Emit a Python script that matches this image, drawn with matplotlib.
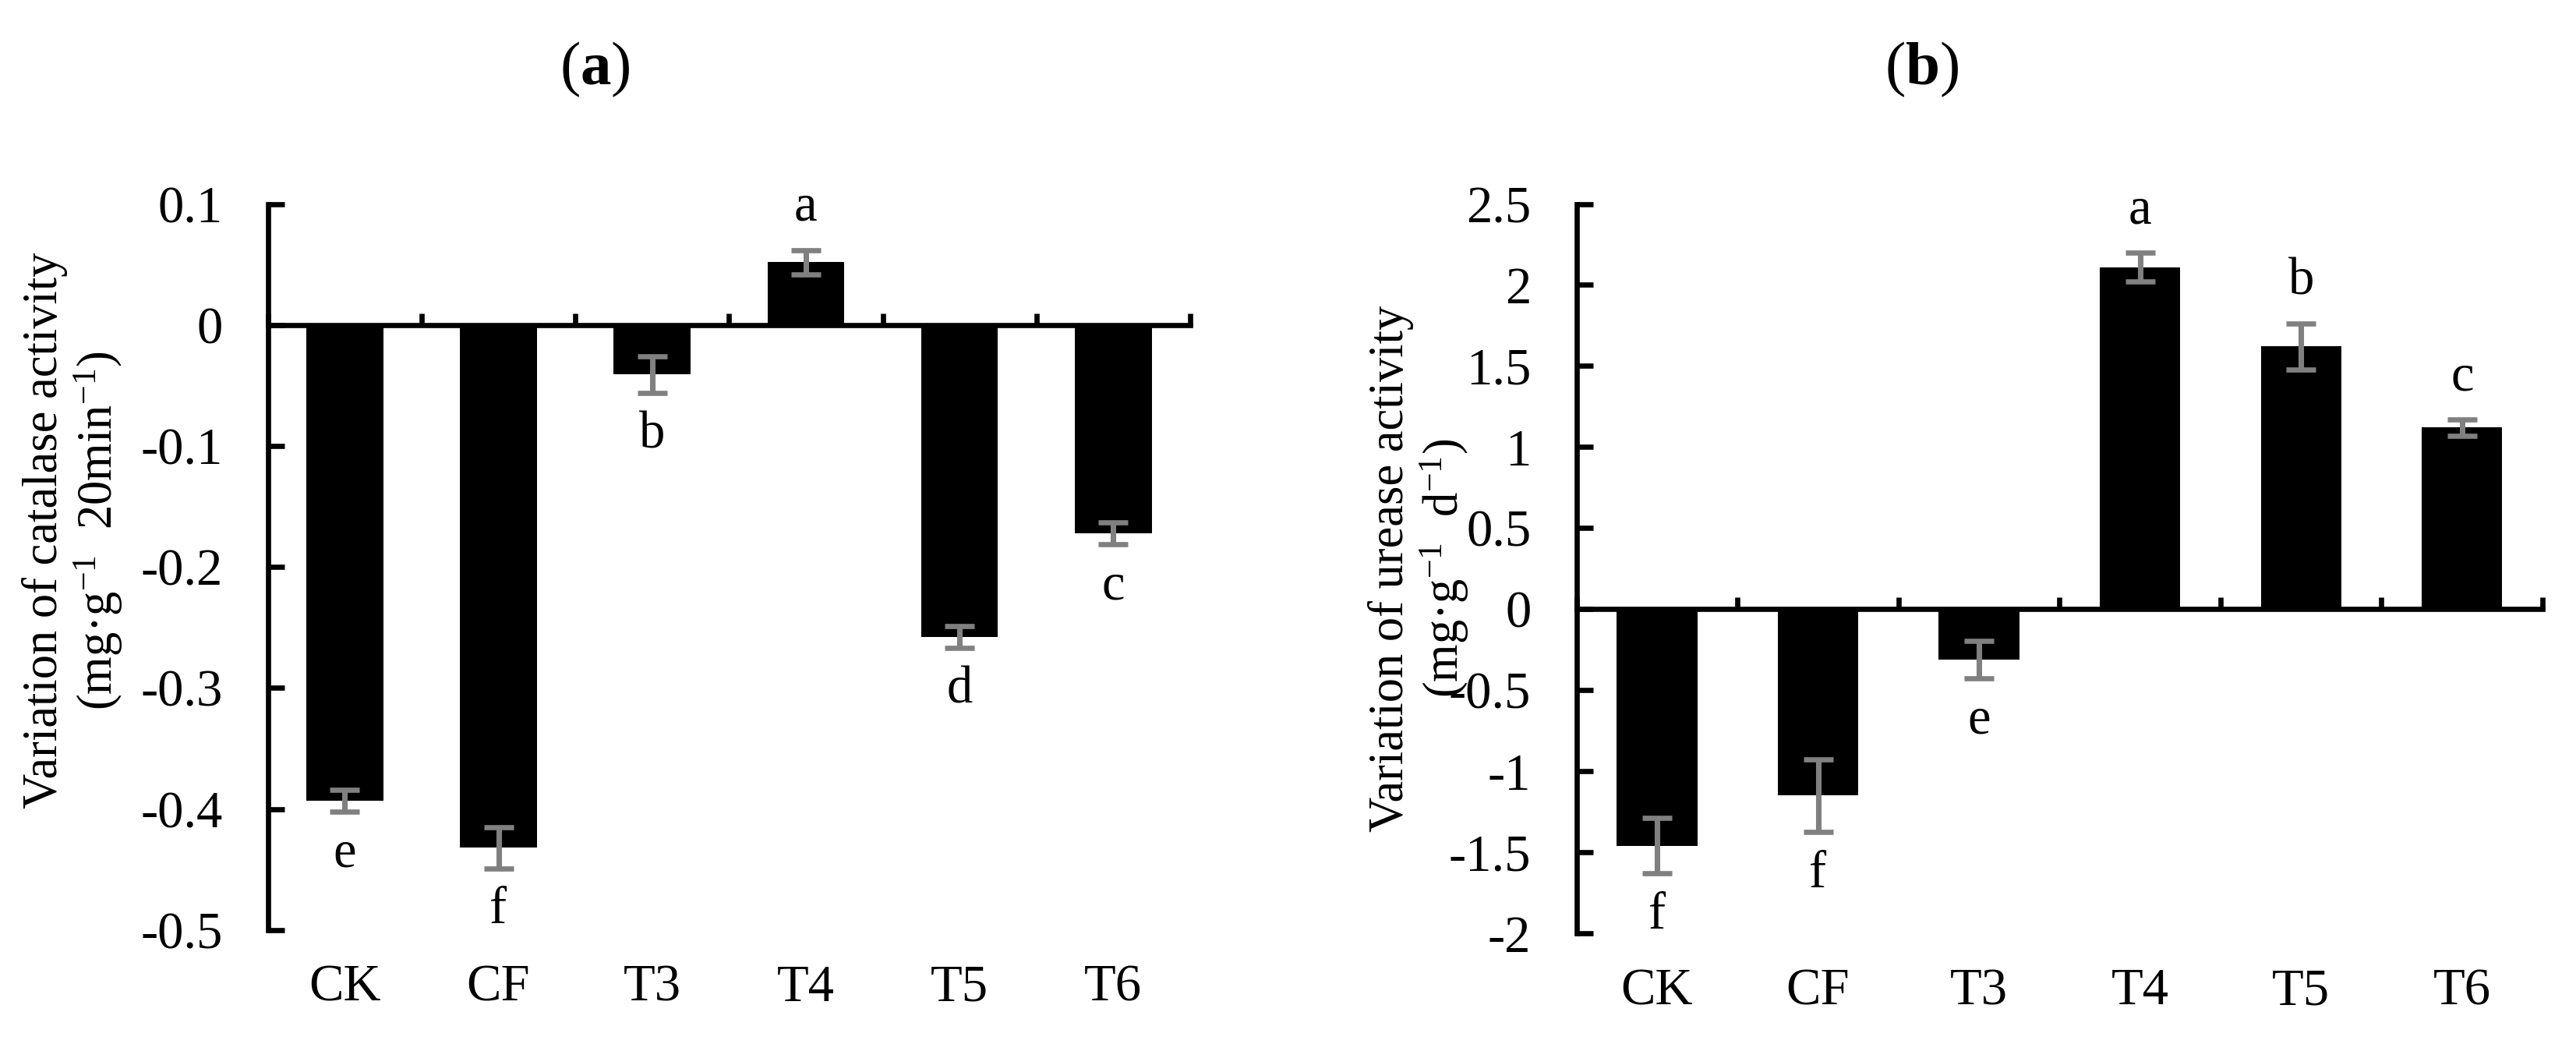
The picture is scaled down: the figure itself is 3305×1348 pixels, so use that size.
import matplotlib
matplotlib.use('Agg')
import matplotlib.pyplot as plt
import matplotlib.transforms as mtransforms
import numpy as np

plt.rcParams['font.family'] = ['Liberation Serif', 'DejaVu Serif']
plt.rcParams['mathtext.fontset'] = 'custom'
plt.rcParams['mathtext.rm'] = 'Liberation Serif'
plt.rcParams['mathtext.it'] = 'Liberation Serif:italic'
plt.rcParams['mathtext.bf'] = 'Liberation Serif:bold'

treatments = ['CK', 'CF', 'T3', 'T4', 'T5', 'T6']

# (a) catalase
catalase = [-0.393, -0.432, -0.041, 0.052, -0.258, -0.172]
catalase_err = [0.009, 0.017, 0.015, 0.010, 0.009, 0.009]
catalase_letters = ['e', 'f', 'b', 'a', 'd', 'c']

# (b) urease
urease = [-1.46, -1.15, -0.31, 2.11, 1.62, 1.12]
urease_err = [0.17, 0.225, 0.115, 0.09, 0.14, 0.05]
urease_letters = ['f', 'f', 'e', 'a', 'b', 'c']

FS = 16


def panel(ax, values, errs, letters, ylim, yticks, ylabel, label_xy,
          title, title_x):
    x = np.arange(len(treatments))
    ax.bar(x, values, width=0.5, color='black', zorder=2)
    ax.errorbar(x, values, yerr=errs, fmt='none', ecolor='#808080',
                elinewidth=1.7, capsize=4.6, capthick=1.6, zorder=3)

    ax.set_xlim(-0.5, len(treatments) - 0.5)
    ax.set_ylim(*ylim)
    ax.set_yticks(yticks)
    ax.set_yticklabels(['%g' % t for t in yticks])

    for s in ['top', 'right']:
        ax.spines[s].set_visible(False)
    ax.spines['bottom'].set_position(('data', 0))
    ax.spines['left'].set_linewidth(1.6)
    ax.spines['bottom'].set_linewidth(1.6)

    # ticks between the categories, pointing up
    ax.set_xticks(np.arange(-0.5, len(treatments), 1.0))
    ax.set_xticklabels([])
    ax.tick_params(axis='x', direction='in', length=3.6, width=1.6)
    ax.tick_params(axis='y', direction='in', length=5, width=1.6,
                   labelsize=FS, pad=14)

    trans = mtransforms.blended_transform_factory(ax.transData, ax.transAxes)
    for i, name in enumerate(treatments):
        ax.text(i, -0.08, name, transform=trans, ha='center', va='center',
                fontsize=FS)

    # significance letters beyond the error bars
    for i, (v, e, l) in enumerate(zip(values, errs, letters)):
        sign = 1 if v >= 0 else -1
        ax.annotate(l, (i, v + sign * e), xytext=(0, sign * 13),
                    textcoords='offset points', ha='center', va='center',
                    fontsize=FS)

    ax.text(label_xy[0], label_xy[1], ylabel, transform=ax.transAxes,
            rotation=90, ha='center', va='center', rotation_mode='anchor',
            fontsize=15, linespacing=1.1, multialignment='center')
    ax.figure.text(title_x, 0.934, title, ha='center', va='center',
                   fontsize=19)


fig = plt.figure(figsize=(3305 / 300, 1348 / 300), dpi=300)
ax_a = fig.add_axes([0.104, 0.115, 0.358, 0.691])
ax_b = fig.add_axes([0.612, 0.112, 0.375, 0.694])

panel(ax_a, catalase, catalase_err, catalase_letters, (-0.5, 0.1),
      [0.1, 0, -0.1, -0.2, -0.3, -0.4, -0.5],
      'Variation of catalase activity\n(mg·g$^{-1}$  20min$^{-1}$)',
      (-0.211, 0.55), r'($\mathbf{a}$)', 0.231)
panel(ax_b, urease, urease_err, urease_letters, (-2, 2.5),
      [2.5, 2, 1.5, 1, 0.5, 0, -0.5, -1, -1.5, -2],
      'Variation of urease activity\n(mg·g$^{-1}$  d$^{-1}$)',
      (-0.163, 0.5), r'($\mathbf{b}$)', 0.746)

fig.savefig('out.png', dpi=300)
